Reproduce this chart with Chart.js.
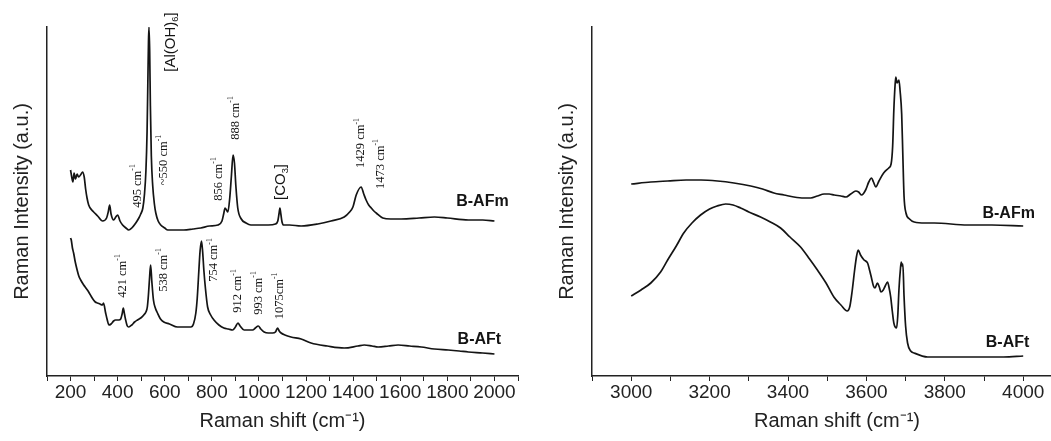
<!DOCTYPE html>
<html><head><meta charset="utf-8">
<script src="https://cdn.jsdelivr.net/npm/chart.js@4.4.0/dist/chart.umd.min.js"></script>
<style>
html,body{margin:0;padding:0;background:#fff;overflow:hidden;width:1051px;height:441px;}
#wrap{position:relative;width:1051px;height:441px;overflow:hidden;background:#fff;}
canvas{position:absolute;top:0;}
</style></head><body>
<div id="wrap">
<canvas id="left" width="545" height="441" style="left:0;width:545px;height:441px"></canvas>
<canvas id="right" width="545" height="441" style="left:545px;width:545px;height:441px"></canvas>
</div>
<script>
// ---------- data (Raman shift in cm-1, intensity in arbitrary units) ----------
const afmLowShift = [200,205,210,215,221,228,234,245,251,258,264,270,277,290,298,315,336,353,360,366,372,383,392,400,410,421,435,447,460,477,490,498,507,514,520,525,528,531,533,536,539,543,549,556,562,572,583,600,613,650,681,720,753,790,826,843,851,856,862,868,876,883,890,896,902,910,925,945,966,1000,1040,1070,1080,1085,1089,1093,1098,1105,1130,1179,1250,1306,1362,1385,1399,1413,1434,1445,1455,1466,1477,1488,1498,1526,1560,1604,1680,1745,1800,1889,1950,2000];
const afmLowInt   = [206,199,194,203,197,202,199,202,204,199,187,178,171,166,164,160,155,158,164,171,162,156,159,161,155,151,148,146,148,153,158,162,168,182,205,245,290,335,349,325,270,220,190,172,163,155,151,148,146,146,146,147,148,150,151,155,163,168,166,164,178,200,221,213,190,168,157,153,151,151,151,152,155,162,168,162,154,151,151,150,152,155,159,164,169,181,189,182,176,171,168,165,163,158,157,157,158,159,158,156,156,155];

const aftLowShift = [200,203,208,213,220,228,235,243,256,265,277,292,305,314,325,335,340,349,356,363,372,383,391,405,413,419,424,429,434,441,447,460,472,484,498,511,520,526,531,536,540,545,552,560,569,582,596,620,654,680,711,722,732,738,745,750,756,761,766,773,782,795,809,830,851,870,888,900,911,920,937,955,973,985,997,1008,1022,1040,1058,1070,1079,1086,1094,1110,1136,1179,1221,1290,1362,1420,1447,1480,1506,1550,1591,1640,1689,1745,1804,1850,1889,1950,2000];
const aftLowInt   = [138,136,128,123,114,106,100,96,91,88,84,78,74,73,72,71,73,63,56,51,52,55,56,56,57,62,68,62,56,50,49,51,54,56,58,61,64,69,82,100,111,95,76,68,63,57,54,52,49,49,49,52,63,78,106,125,135,124,106,87,69,61,56,51,48,47,46,49,53,50,46,46,46,48,50,47,44,43,43,44,48,45,43,41,39,37,33,30,28,30,31,30,29,30,31,30,29,27,26,25,24,23,22];

const afmHighShift = [3000,3050,3093,3140,3178,3220,3262,3305,3335,3364,3390,3415,3440,3458,3475,3492,3505,3518,3535,3548,3560,3573,3580,3588,3598,3606,3613,3618,3624,3632,3644,3657,3663,3667,3670,3673,3675,3678,3680,3683,3686,3690,3693,3696,3701,3710,3722,3750,3773,3858,3920,4000];
const afmHighInt   = [192,194,195,196,196,195,193,190,187,183,181,179,178,178,180,182,182,181,180,179,182,185,184,181,186,194,198,194,189,195,203,208,212,230,266,290,299,293,294,296,285,262,220,180,163,157,154,153,153,151,151,150];

const aftHighShift = [3000,3025,3050,3075,3093,3115,3134,3155,3177,3200,3219,3241,3260,3279,3300,3330,3355,3381,3405,3432,3455,3475,3497,3517,3535,3551,3558,3564,3570,3575,3579,3585,3594,3603,3608,3613,3618,3622,3628,3633,3637,3643,3648,3654,3658,3662,3666,3670,3677,3680,3683,3687,3689,3691,3693,3696,3700,3705,3713,3722,3756,3850,3950,4000];
const aftHighInt   = [80,86,93,104,116,130,143,153,161,167,170,172,171,168,164,159,154,148,139,129,117,106,93,79,71,65,70,86,106,120,126,121,116,113,106,98,90,88,93,89,84,86,90,94,88,79,65,53,48,60,86,108,114,110,112,80,50,33,25,23,19,19,19,20];

// tick marks and tick labels
const lowTicks  = [100,200,300,400,500,600,700,800,900,1000,1100,1200,1300,1400,1500,1600,1700,1800,1900,2000,2100];
const lowTickLabels  = [200,400,600,800,1000,1200,1400,1600,1800,2000];
const highTicks = [2900,3000,3100,3200,3300,3400,3500,3600,3700,3800,3900,4000,4100];
const highTickLabels = [3000,3200,3400,3600,3800,4000];

// peak annotations (text, anchored at shift / intensity)
const lowPeakNotes = [
  {text:'495 cm^{-1}', x:485, y:190},
  {text:'~550 cm^{-1}', x:596, y:216},
  {text:'856 cm^{-1}', x:830, y:197},
  {text:'888 cm^{-1}', x:902, y:258},
  {text:'1429 cm^{-1}', x:1434, y:233},
  {text:'1473 cm^{-1}', x:1515, y:212},
  {text:'421 cm^{-1}', x:421, y:100},
  {text:'538 cm^{-1}', x:596, y:106},
  {text:'754 cm^{-1}', x:809, y:116},
  {text:'912 cm^{-1}', x:911, y:85},
  {text:'993 cm^{-1}', x:1000, y:83},
  {text:'1075cm^{-1}', x:1089, y:80}
];
const lowGroupNotes = [
  {text:'[Al(OH)_{6}]', x:626, y:334},
  {text:'[CO_{3}]', x:1094, y:194}
];
const lowSampleNotes = [
  {text:'B-AFm', x:1949, y:174},
  {text:'B-AFt', x:1936, y:36}
];
const highSampleNotes = [
  {text:'B-AFm', x:3963, y:162},
  {text:'B-AFt', x:3960, y:33}
];

// ---------- drawing ----------
const SANS = "'Liberation Sans', Arial, Helvetica, sans-serif";
const SERIF = "'Liberation Serif', 'Times New Roman', serif";
const INK = '#141414';

function parseRich(t){
  const out=[]; const re=/([\^_])\{([^}]*)\}/g; let last=0, m;
  while((m=re.exec(t))){ if(m.index>last) out.push({t:t.slice(last,m.index),k:''}); out.push({t:m[2],k:m[1]}); last=re.lastIndex; }
  if(last<t.length) out.push({t:t.slice(last),k:''});
  return out;
}
function drawRich(ctx, text, x, y, st){
  const segs=parseRich(text);
  const fontFor=k=>`${st.weight||'normal'} ${k? st.size*0.62 : st.size}px ${st.family}`;
  let total=0;
  segs.forEach(s=>{ctx.font=fontFor(s.k); s.w=ctx.measureText(s.t).width; total+=s.w;});
  ctx.save();
  ctx.translate(x,y);
  if(st.rotate) ctx.rotate(-Math.PI/2);
  ctx.fillStyle=INK; ctx.textBaseline='middle'; ctx.textAlign='left';
  let cx=-total/2;
  segs.forEach(s=>{
    ctx.font=fontFor(s.k);
    const dy = s.k==='^' ? -st.size*0.36 : (s.k==='_' ? st.size*0.28 : 0);
    ctx.fillText(s.t,cx,dy); cx+=s.w;
  });
  ctx.restore();
}
const notesPlugin = {
  id:'notes',
  afterDatasetsDraw(chart, args, opts){
    const {ctx, scales:{x,y}} = chart;
    (opts.groups||[]).forEach(g=>{
      g.items.forEach(n=>drawRich(ctx, n.text, x.getPixelForValue(n.x), y.getPixelForValue(n.y), g.style));
    });
  }
};

function pts(xs, ys){ return xs.map((v,i)=>({x:v,y:ys[i]})); }

function makeChart(id, cfg){
  const ds = cfg.series.map(s=>({data:pts(s[0],s[1]), borderColor:INK, borderWidth:1.7, pointRadius:0, fill:false, cubicInterpolationMode:'monotone', borderJoinStyle:'round', parsing:false}));
  return new Chart(document.getElementById(id), {
    type:'line',
    data:{datasets:ds},
    options:{
      responsive:false, animation:false, devicePixelRatio:1,
      layout:{padding:{top:27,left:0,bottom:0,right:cfg.padRight}},
      plugins:{legend:{display:false}, tooltip:{enabled:false}, notes:{groups:cfg.notes}},
      scales:{
        x:{type:'linear', min:cfg.min, max:cfg.max,
          afterBuildTicks:s=>{ s.ticks = cfg.ticks.map(v=>({value:v})); },
          afterFit:s=>{ s.height = 65; },
          ticks:{autoSkip:false, maxRotation:0, minRotation:0, padding:0, color:'#222',
                 font:{family:SANS, size:19},
                 callback:v=> cfg.labels.includes(v) ? String(v) : ''},
          grid:{display:true, drawOnChartArea:false, drawTicks:true, tickLength:5, color:'#222', lineWidth:1},
          border:{display:true, color:'#222', width:1.5},
          title:{display:true, text:'Raman shift (cm⁻¹)', color:'#222', font:{family:SANS, size:20}, padding:{top:0,bottom:8}}
        },
        y:{type:'linear', min:0, max:349,
          afterFit:s=>{ s.width = 47; },
          ticks:{display:false},
          grid:{display:false},
          border:{display:true, color:'#222', width:1.5},
          title:{display:true, text:'Raman Intensity (a.u.)', color:'#222', font:{family:SANS, size:20}, padding:{top:10,bottom:0}}
        }
      }
    },
    plugins:[notesPlugin]
  });
}

makeChart('left', {
  min:100, max:2100, ticks:lowTicks, labels:lowTickLabels, padRight:27,
  series:[[afmLowShift, afmLowInt],[aftLowShift, aftLowInt]],
  notes:[
    {items:lowPeakNotes, style:{family:SERIF, size:12.5, rotate:true}},
    {items:lowGroupNotes, style:{family:SANS, size:15, rotate:true}},
    {items:lowSampleNotes, style:{family:SANS, size:16, weight:'bold', rotate:false}}
  ]
});
makeChart('right', {
  min:2900, max:4150, ticks:highTicks, labels:highTickLabels, padRight:8,
  series:[[afmHighShift, afmHighInt],[aftHighShift, aftHighInt]],
  notes:[
    {items:highSampleNotes, style:{family:SANS, size:16, weight:'bold', rotate:false}}
  ]
});
</script>
</body></html>
